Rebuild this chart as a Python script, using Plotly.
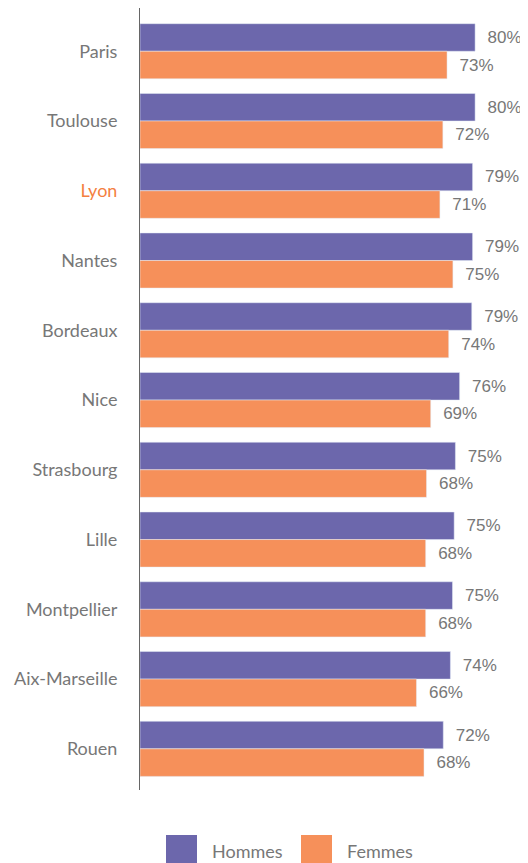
import plotly.graph_objects as go

# data
villes = ["Paris", "Toulouse", "Lyon", "Nantes", "Bordeaux", "Nice",
          "Strasbourg", "Lille", "Montpellier", "Aix-Marseille", "Rouen"]
hommes = [80.0, 80.0, 79.4, 79.4, 79.2, 76.3, 75.3, 75.0, 74.6, 74.1, 72.4]
femmes = [73.3, 72.3, 71.6, 74.7, 73.7, 69.4, 68.4, 68.2, 68.2, 66.0, 67.8]
hommes_txt = ["80%", "80%", "79%", "79%", "79%", "76%", "75%", "75%", "75%", "74%", "72%"]
femmes_txt = ["73%", "72%", "71%", "75%", "74%", "69%", "68%", "68%", "68%", "66%", "68%"]

violet = "#6c67ac"
orange = "#f6905a"
gris = "#777777"

W, H = 528, 863
L, R, T, B = 132, 19, 0, 81
pw, ph = W - L - R, H - T - B
OFF = 8  # page margin of the browser


def px_x(x):
    return (x - OFF - L) / pw


def px_y(y):
    return (H - B - (y - OFF)) / ph


tick_text = [f"<span style='color:#f47f3f'>{v}</span>" if v == "Lyon" else v for v in villes]

fig = go.Figure()
for nom, vals, txt, col in [("Hommes", hommes, hommes_txt, violet),
                            ("Femmes", femmes, femmes_txt, orange)]:
    fig.add_trace(go.Bar(
        y=villes, x=vals, name=nom, orientation="h", marker_color=col,
        text=["\u00a0\u00a0" + t for t in txt], textposition="outside",
        textfont=dict(family="Liberation Sans, Arial", size=17, color=gris),
        cliponaxis=False, showlegend=False,
    ))

fig.update_layout(
    width=W, height=H, barmode="group", bargap=0.21,
    margin=dict(l=L, r=R, t=T, b=B),
    plot_bgcolor="white", paper_bgcolor="white",
    font=dict(family="Lato", size=18, color=gris),
    xaxis=dict(range=[0, 90], visible=False),
    yaxis=dict(categoryorder="array", categoryarray=villes,
               tickvals=villes, ticktext=tick_text,
               range=[10.59, -0.62], showline=True, linecolor="#666666",
               linewidth=1, ticks="", ticklabelstandoff=18,
               showgrid=False, zeroline=False),
)

# legend drawn by hand so the squares can be large
for nom, col, x0 in [("Hommes", violet, 166), ("Femmes", orange, 301)]:
    fig.add_shape(type="rect", xref="paper", yref="paper",
                  x0=px_x(x0), x1=px_x(x0 + 31), y0=px_y(866), y1=px_y(835),
                  fillcolor=col, line_width=0)
    fig.add_annotation(text=nom, xref="paper", yref="paper", x=px_x(x0 + 44),
                       y=px_y(851), xanchor="left", yanchor="middle",
                       showarrow=False, font=dict(family="Lato", size=18, color=gris))

fig.write_html("out.html")
